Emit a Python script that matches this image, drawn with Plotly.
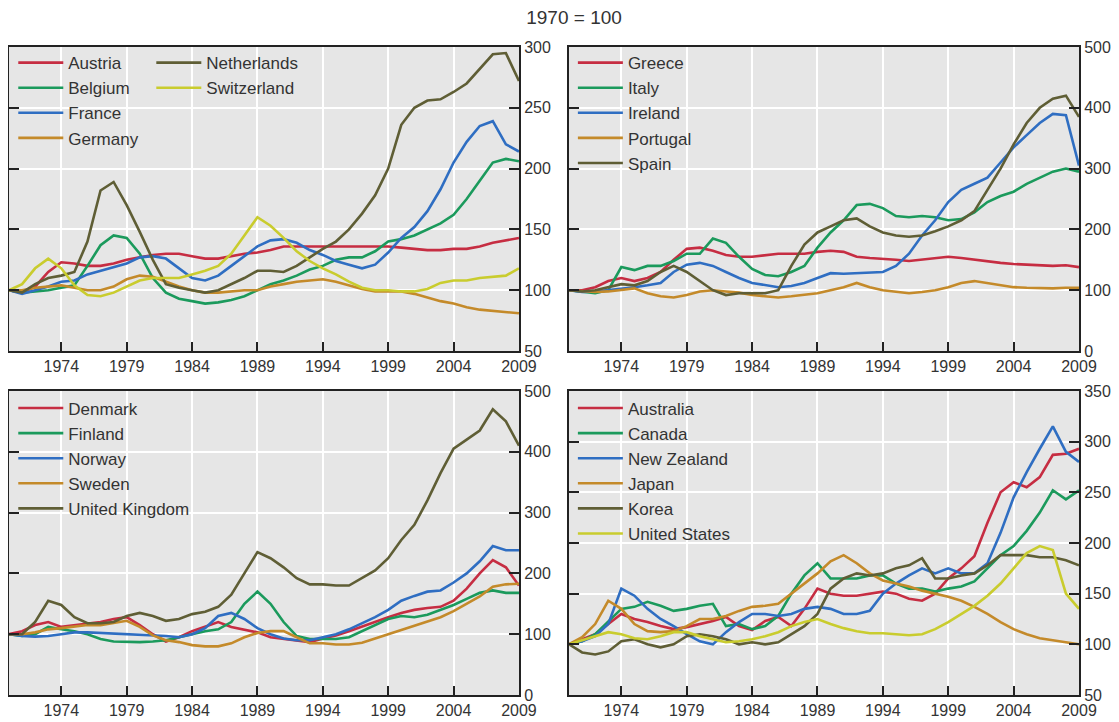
import plotly.graph_objects as go
from plotly.subplots import make_subplots

years = list(range(1970, 2010))
x_ticks = [1974, 1979, 1984, 1989, 1994, 1999, 2004, 2009]

# Panel 1
austria = [100, 98, 103, 115, 123, 122, 120, 120, 122, 125, 127, 129, 130, 130, 128, 126, 126, 128, 130, 131,
           133, 136, 136, 136, 136, 136, 136, 136, 136, 136, 135, 134, 133, 133, 134, 134, 136, 139, 141, 143]
belgium = [100, 98, 99, 100, 102, 104, 120, 137, 145, 143, 130, 110, 98, 93, 91, 89, 90, 92, 95, 100,
           105, 108, 112, 117, 120, 125, 127, 127, 132, 140, 142, 145, 150, 155, 162, 175, 190, 205, 208, 206]
france = [100, 97, 100, 103, 107, 108, 113, 116, 119, 122, 127, 128, 126, 118, 110, 108, 112, 120, 128, 136,
          141, 142, 139, 133, 129, 124, 121, 118, 121, 131, 143, 152, 165, 183, 205, 222, 235, 239, 220, 214]
germany = [100, 100, 102, 103, 104, 102, 100, 100, 103, 109, 112, 111, 107, 103, 100, 98, 98, 99, 100, 100,
           103, 105, 107, 108, 109, 107, 104, 101, 99, 99, 99, 97, 94, 91, 89, 86, 84, 83, 82, 81]
netherlands = [100, 98, 105, 110, 112, 115, 140, 182, 189, 170, 148, 125, 105, 102, 100, 98, 100, 105, 110, 116,
               116, 115, 120, 127, 134, 140, 150, 163, 178, 200, 236, 250, 256, 257, 263, 270, 282, 294, 295, 272]
switzerland = [100, 105, 118, 126, 118, 104, 96, 95, 98, 103, 108, 110, 110, 110, 113, 116, 120, 130, 145, 160,
               153, 143, 132, 124, 118, 113, 107, 102, 100, 100, 99, 99, 101, 106, 108, 108, 110, 111, 112, 118]

# Panel 2
greece = [100, 100, 105, 115, 120, 115, 120, 130, 150, 168, 170, 165, 158, 155, 155, 157, 160, 160, 160, 163,
          165, 163, 155, 153, 152, 150, 148, 150, 152, 155, 153, 150, 148, 145, 143, 142, 140, 140, 141, 138]
italy = [100, 98, 95, 100, 138, 133, 140, 140, 148, 160, 160, 185, 178, 155, 135, 125, 123, 130, 140, 170,
         195, 215, 240, 242, 235, 222, 220, 222, 220, 215, 217, 228, 245, 255, 262, 275, 285, 295, 300, 295]
ireland = [100, 97, 98, 100, 102, 105, 108, 112, 130, 142, 145, 140, 130, 120, 112, 108, 105, 107, 112, 120,
           128, 127, 128, 128, 130, 140, 160, 190, 215, 245, 265, 275, 285, 310, 335, 355, 375, 390, 388, 305]
portugal = [100, 98, 97, 98, 100, 103, 95, 90, 88, 92, 98, 100, 98, 96, 92, 90, 88, 90, 92, 95,
            100, 105, 112, 105, 100, 97, 95, 97, 100, 105, 112, 115, 112, 108, 105, 104, 103, 103, 104, 104]
spain = [100, 98, 100, 105, 110, 108, 115, 130, 140, 130, 115, 100, 92, 95, 95, 95, 100, 140, 175, 195,
         205, 215, 218, 205, 195, 190, 188, 190, 197, 205, 215, 230, 265, 300, 340, 375, 400, 415, 420, 385]

# Panel 3
denmark = [100, 105, 115, 120, 112, 115, 118, 120, 125, 128, 115, 100, 88, 95, 105, 112, 120, 112, 107, 103,
           95, 92, 90, 87, 93, 98, 105, 113, 120, 128, 135, 140, 143, 145, 155, 175, 200, 222, 210, 180]
finland = [100, 97, 100, 112, 108, 105, 100, 92, 88, 87, 87, 88, 90, 95, 100, 105, 108, 120, 150, 170,
           150, 120, 97, 92, 92, 92, 95, 105, 115, 125, 130, 128, 132, 140, 148, 158, 168, 172, 168, 168]
norway = [100, 97, 96, 97, 100, 103, 103, 102, 101, 100, 100, 98, 97, 95, 100, 110, 130, 135, 125, 110,
          100, 93, 90, 90, 95, 100, 108, 118, 128, 140, 155, 163, 170, 172, 185, 200, 220, 245, 238, 238]
sweden = [100, 100, 103, 108, 110, 112, 115, 115, 118, 122, 112, 98, 90, 87, 82, 80, 80, 85, 95, 102,
          105, 105, 95, 85, 85, 83, 83, 86, 93, 100, 108, 115, 122, 128, 138, 150, 162, 178, 182, 183]
united_kingdom = [100, 100, 120, 155, 148, 128, 118, 118, 120, 130, 135, 130, 122, 125, 133, 137, 145, 165, 200, 235,
                  225, 210, 192, 182, 182, 180, 180, 192, 205, 225, 255, 280, 320, 365, 405, 420, 435, 470, 450, 410]

# Panel 4
australia = [100, 105, 110, 120, 130, 125, 122, 118, 115, 117, 120, 123, 127, 118, 114, 123, 127, 118, 135, 155,
             150, 148, 148, 150, 152, 150, 145, 143, 150, 165, 175, 187, 220, 250, 260, 255, 265, 287, 288, 293]
canada = [100, 103, 110, 123, 135, 137, 142, 138, 133, 135, 138, 140, 118, 120, 115, 118, 128, 150, 168, 180,
          165, 165, 165, 168, 168, 160, 155, 155, 152, 155, 157, 162, 175, 188, 197, 212, 230, 252, 243, 252]
new_zealand = [100, 103, 108, 120, 155, 148, 135, 125, 118, 110, 103, 100, 112, 122, 130, 130, 128, 130, 135, 137,
               135, 130, 130, 133, 150, 160, 168, 175, 170, 175, 170, 170, 180, 210, 245, 270, 293, 315, 290, 280]
japan = [100, 107, 120, 143, 135, 120, 113, 112, 113, 118, 125, 125, 128, 133, 137, 138, 140, 150, 160, 170,
         182, 188, 180, 170, 163, 160, 157, 153, 150, 147, 143, 137, 130, 122, 115, 110, 106, 104, 102, 100]
korea = [100, 92, 90, 93, 103, 105, 100, 97, 100, 108, 110, 108, 105, 100, 102, 100, 102, 110, 118, 130,
         155, 165, 170, 168, 170, 175, 178, 185, 165, 165, 168, 170, 178, 188, 188, 188, 186, 186, 183, 178]
united_states = [100, 104, 108, 112, 110, 106, 105, 108, 112, 112, 108, 105, 102, 103, 105, 108, 112, 118, 122, 125,
                 120, 116, 113, 111, 111, 110, 109, 110, 115, 122, 130, 138, 148, 160, 175, 190, 197, 193, 150, 135]

RED = "#c62d42"
GREEN = "#1b9a5c"
BLUE = "#2f6ec2"
ORANGE = "#c48a2a"
OLIVE = "#5f5e35"
YELLOW = "#c9cc2e"

panels = [
    (1, 1, [("Austria", austria, RED, "legend"), ("Belgium", belgium, GREEN, "legend"),
            ("France", france, BLUE, "legend"), ("Germany", germany, ORANGE, "legend"),
            ("Netherlands", netherlands, OLIVE, "legend2"), ("Switzerland", switzerland, YELLOW, "legend2")],
     [50, 300], [50, 100, 150, 200, 250, 300]),
    (1, 2, [("Greece", greece, RED, "legend3"), ("Italy", italy, GREEN, "legend3"),
            ("Ireland", ireland, BLUE, "legend3"), ("Portugal", portugal, ORANGE, "legend3"),
            ("Spain", spain, OLIVE, "legend3")],
     [0, 500], [0, 100, 200, 300, 400, 500]),
    (2, 1, [("Denmark", denmark, RED, "legend4"), ("Finland", finland, GREEN, "legend4"),
            ("Norway", norway, BLUE, "legend4"), ("Sweden", sweden, ORANGE, "legend4"),
            ("United Kingdom", united_kingdom, OLIVE, "legend4")],
     [0, 500], [0, 100, 200, 300, 400, 500]),
    (2, 2, [("Australia", australia, RED, "legend5"), ("Canada", canada, GREEN, "legend5"),
            ("New Zealand", new_zealand, BLUE, "legend5"), ("Japan", japan, ORANGE, "legend5"),
            ("Korea", korea, OLIVE, "legend5"), ("United States", united_states, YELLOW, "legend5")],
     [50, 350], [50, 100, 150, 200, 250, 300, 350]),
]

FONT = "Liberation Sans, Arial, sans-serif"
TXT = "#333333"

fig = make_subplots(rows=2, cols=2, horizontal_spacing=0.0468, vertical_spacing=0.0617)

for r, c, series, yr, yt in panels:
    fig.add_hline(y=100, line=dict(color="#555555", width=2), layer="below", row=r, col=c)
    for name, vals, color, leg in series:
        fig.add_trace(go.Scatter(x=years, y=vals, name=name, mode="lines",
                                 line=dict(color=color, width=2.6),
                                 legend=leg, legendgroup=name),
                      row=r, col=c)
    fig.update_xaxes(range=[1970, 2009], tickvals=x_ticks, ticks="inside", ticklen=9,
                     tickcolor="#222", tickwidth=1.5,
                     showgrid=True, gridcolor="white", gridwidth=1.5,
                     showline=True, linecolor="#222", linewidth=2, mirror=True,
                     tickfont=dict(family=FONT, size=16, color=TXT), row=r, col=c)
    fig.update_yaxes(range=yr, tickvals=yt, side="right", ticks="inside", ticklen=10,
                     tickcolor="#222", tickwidth=1.5,
                     showgrid=True, gridcolor="white", gridwidth=1.5,
                     showline=True, linecolor="#222", linewidth=2, mirror="ticks",
                     zeroline=False, automargin=False,
                     tickfont=dict(family=FONT, size=16, color=TXT), row=r, col=c)

legend_common = dict(bgcolor="rgba(0,0,0,0)", borderwidth=0, xanchor="left", yanchor="top",
                     font=dict(family=FONT, size=17, color=TXT), tracegroupgap=0,
                     traceorder="grouped", itemwidth=45)

# the page body adds an 8px offset; the figure is sized to fit the 1119x722 window
fig.update_layout(
    width=1111, height=714,
    margin=dict(l=1, r=40, t=39, b=27),
    paper_bgcolor="white",
    plot_bgcolor="#e6e6e6",
    showlegend=True,
    title=dict(text="1970 = 100", x=0.5095, xanchor="center", y=0.987, yanchor="middle",
               font=dict(family=FONT, size=19, color=TXT)),
    legend=dict(x=0.004, y=1.003, **legend_common),
    legend2=dict(x=0.133, y=1.003, **legend_common),
    legend3=dict(x=0.527, y=1.003, **legend_common),
    legend4=dict(x=0.004, y=0.470, **legend_common),
    legend5=dict(x=0.527, y=0.470, **legend_common),
)

fig.write_html("out.html")
